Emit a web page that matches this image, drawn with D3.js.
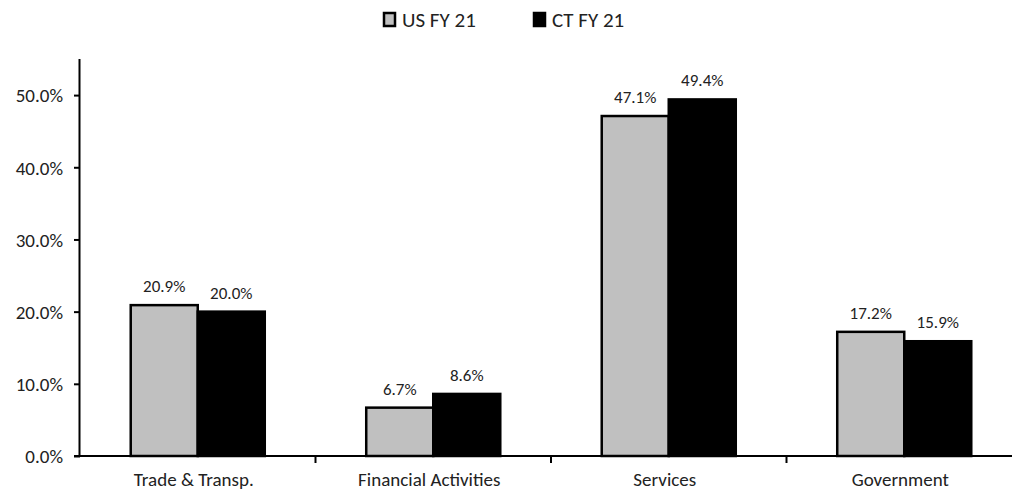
<!DOCTYPE html>
<html>
<head>
<meta charset="utf-8">
<script src="https://cdn.jsdelivr.net/npm/d3@7"></script>
<style>
  html, body { margin: 0; padding: 0; background: #fff; }
  svg text { font-family: Carlito, "Liberation Sans", Arial, sans-serif; fill: #222; }
</style>
</head>
<body>
<svg id="chart" width="1012" height="496"></svg>
<script>
// Employment share by sector, US vs CT, fiscal year 2021
const categories = ["Trade & Transp.", "Financial Activities", "Services", "Government"];
const seriesNames = ["US FY 21", "CT FY 21"];
const usValues = [0.209, 0.067, 0.471, 0.172];
const ctValues = [0.200, 0.086, 0.494, 0.159];
const yTicks = [0, 0.1, 0.2, 0.3, 0.4, 0.5];
const seriesColors = ["#c0c0c0", "#000000"];

const svg = d3.select("#chart");
const width = 1012;
const plotLeft = 80, plotRight = 1022, plotTop = 59, plotBottom = 456;

const x = d3.scaleBand().domain(categories).range([plotLeft, plotRight]).paddingInner(0).paddingOuter(0);
const inner = d3.scaleBand().domain(seriesNames).range([0, x.bandwidth()]).paddingInner(0).paddingOuter(0.757);
const y = d3.scaleLinear().domain([0, 0.55]).range([plotBottom, plotTop]);

const fmt = d3.format(".1%");

// bars
const rows = categories.map((c, i) => ({ cat: c, vals: [usValues[i], ctValues[i]] }));
const groups = svg.append("g").selectAll("g").data(rows).join("g")
  .attr("transform", d => `translate(${x(d.cat)},0)`);

groups.selectAll("rect").data(d => d.vals.map((v, j) => ({ v, s: seriesNames[j], j })))
  .join("rect")
  .attr("x", d => inner(d.s))
  .attr("width", inner.bandwidth())
  .attr("y", d => y(d.v))
  .attr("height", d => y(0) - y(d.v))
  .attr("fill", d => seriesColors[d.j])
  .attr("stroke", "#000")
  .attr("stroke-width", 2.5);

groups.selectAll("text.val").data(d => d.vals.map((v, j) => ({ v, s: seriesNames[j] })))
  .join("text")
  .attr("class", "val")
  .attr("x", d => inner(d.s) + inner.bandwidth() / 2)
  .attr("y", d => y(d.v) - 13)
  .attr("text-anchor", "middle")
  .attr("font-size", 17)
  .text(d => fmt(d.v));

// y axis
const yAxis = svg.append("g").attr("transform", `translate(${plotLeft},0)`)
  .call(d3.axisLeft(y).tickValues(yTicks).tickFormat(fmt).tickSize(6).tickPadding(11));
yAxis.select(".domain").attr("d", `M-0.5,${y(0)}V${plotTop}`).attr("stroke", "#000").attr("stroke-width", 2);
yAxis.selectAll(".tick line").attr("stroke", "#000").attr("stroke-width", 2);
yAxis.selectAll(".tick text").attr("font-size", 19).attr("fill", "#222")
  .attr("dy", "0.36em")
  .style("font-family", "Carlito, 'Liberation Sans', Arial, sans-serif");

// x axis
const xAxis = svg.append("g").attr("transform", `translate(0,${plotBottom})`);
xAxis.append("line").attr("x1", plotLeft - 6).attr("x2", width).attr("y1", 0).attr("y2", 0)
  .attr("stroke", "#000").attr("stroke-width", 2);
xAxis.selectAll("line.sep").data(categories.slice(1)).join("line")
  .attr("class", "sep")
  .attr("x1", d => x(d)).attr("x2", d => x(d))
  .attr("y1", 0).attr("y2", 7)
  .attr("stroke", "#000").attr("stroke-width", 2);
xAxis.selectAll("text").data(categories).join("text")
  .attr("x", d => x(d) + x.bandwidth() / 2 - 4)
  .attr("y", 30)
  .attr("text-anchor", "middle")
  .attr("font-size", 19)
  .text(d => d);

// legend
const legendItems = [{ name: seriesNames[0], x: 384 }, { name: seriesNames[1], x: 534 }];
const lg = svg.append("g").selectAll("g").data(legendItems).join("g")
  .attr("transform", d => `translate(${d.x},13)`);
lg.append("rect").attr("width", 11).attr("height", 13)
  .attr("fill", (d, i) => seriesColors[i]).attr("stroke", "#000").attr("stroke-width", 2.5);
lg.append("text").attr("x", 18).attr("y", 14).attr("font-size", 21).text(d => d.name);
</script>
</body>
</html>
